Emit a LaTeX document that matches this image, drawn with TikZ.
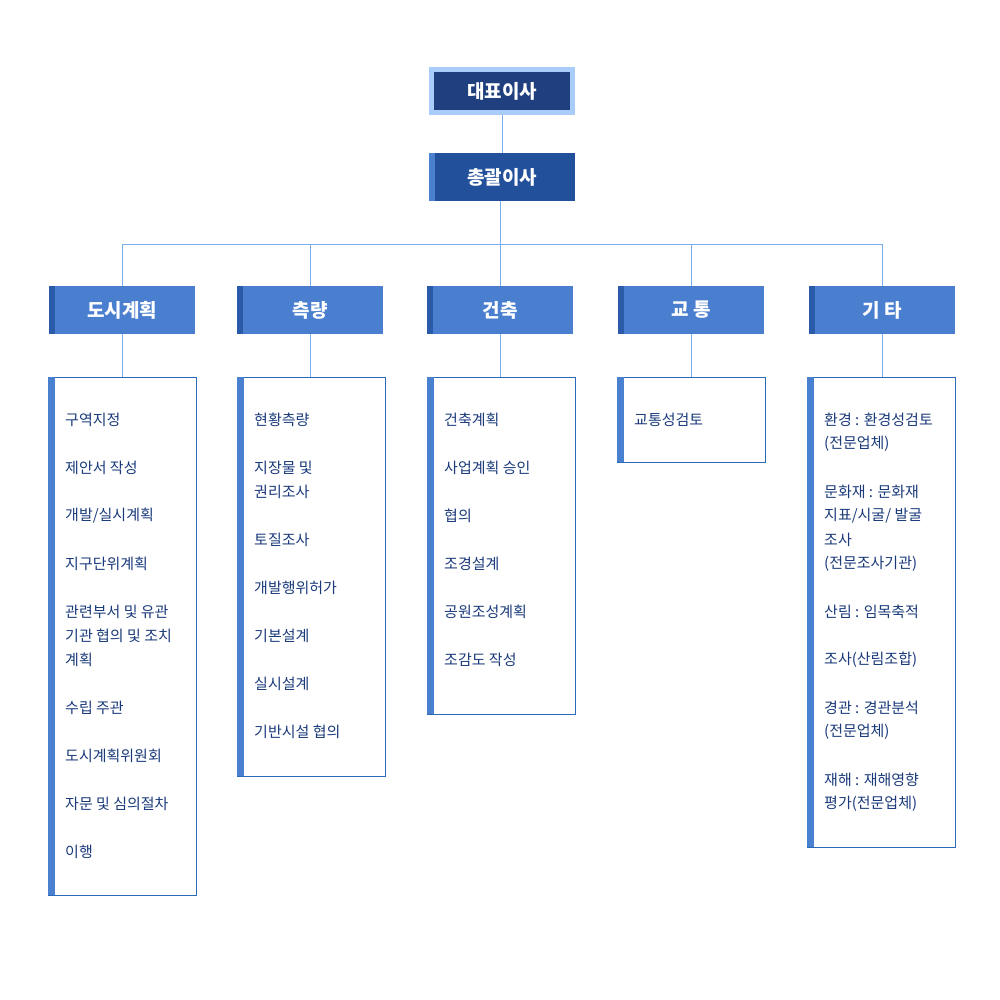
\documentclass[tikz,border=0pt]{standalone}
\usepackage{fontspec}
\setmainfont{Noto Sans CJK KR}
\definecolor{ceo}{HTML}{1F3F7F}
\definecolor{ceoline}{HTML}{A9CDFB}
\definecolor{dir}{HTML}{22509A}
\definecolor{cat}{HTML}{4A7FD0}
\definecolor{catbar}{HTML}{2A5AA8}
\definecolor{boxline}{HTML}{2A6AB8}
\definecolor{bar}{HTML}{4A80D0}
\definecolor{wire}{HTML}{7AAEF0}
\definecolor{txt}{HTML}{1A3A7A}
\begin{document}
\begin{tikzpicture}[x=1pt,y=-1pt,
  head/.style={rectangle, minimum width=146pt, minimum height=48pt, inner sep=0pt, text=white, font=\fontsize{19}{19}\selectfont\bfseries},
  cathead/.style={head, fill=cat, path picture={\fill[catbar] (path picture bounding box.north west) rectangle ([xshift=6pt]path picture bounding box.south west);}},
  item/.style={anchor=west, inner sep=0pt, text=txt, font=\fontsize{15}{15}\selectfont},
  wire/.style={draw=wire, line width=0.8pt}]
\useasboundingbox (0,0) rectangle (1000,1000);
% top
\node[head, fill=ceo, draw=ceoline, line width=5pt, minimum width=141pt, minimum height=43pt] (ceo) at (502,91) {대표이사};
\node[head, fill=dir, path picture={\fill[bar] (path picture bounding box.north west) rectangle ([xshift=6pt]path picture bounding box.south west);}] (dir) at (502,177) {총괄이사};
\draw[wire] (ceo) -- (dir);
\coordinate (hub) at (500,244);
\draw[wire] (dir.south -| hub) -- (hub);
% categories
\foreach \n/\x/\t in {1/122/도시계획, 2/310/측량/토목, 3/500/건축/조경, 4/691/교 통, 5/882/기 타} {
  \node[cathead] (cat-\n) at (\x,310) {\t};
  \coordinate (j-\n) at (\x,244);
}
\draw[wire] (j-1) -- (j-5);
\foreach \n in {1,...,5} \draw[wire] (j-\n) -- (cat-\n);
% detail boxes
\foreach \n/\xa/\xb/\yb in {1/48/196/895, 2/237/385/776, 3/427/575/714, 4/617/765/462, 5/807/955/847} {
  \draw[boxline, line width=0.8pt] (\xa,377) rectangle (\xb,\yb);
  \fill[bar] (\xa,377) rectangle (\xa+7,\yb);
  \coordinate (box-\n) at ({(\xa+\xb)/2},377);
}
\foreach \n in {1,...,5} \draw[wire] (cat-\n) -- (cat-\n |- box-\n);
% items
\foreach \i/\y/\t in {1/420/구역지정, 2/468/제안서 작성, 3/516/{개발/실시계획}, 4/564/지구단위계획, 5/612/관련부서 및 유관, 6/636/기관 협의 및 조치, 7/660/계획, 8/708/수립 주관, 9/756/도시계획위원회, 10/804/자문 및 심의절차, 11/852/이행}
  \node[item] (a-\i) at (65,\y) {\t};
\foreach \i/\y/\t in {1/420/현황측량, 2/468/지장물 및, 3/492/권리조사, 4/540/토질조사, 5/588/개발행위허가, 6/636/기본설계, 7/684/실시설계, 8/732/기반시설 협의}
  \node[item] (b-\i) at (254,\y) {\t};
\foreach \i/\y/\t in {1/420/건축계획, 2/468/사업계획 승인, 3/516/협의, 4/564/조경설계, 5/612/공원조성계획, 6/660/조감도 작성}
  \node[item] (c-\i) at (444,\y) {\t};
\node[item] (d-1) at (634,420) {교통성검토};
\foreach \i/\y/\t in {1/420/환경 : 환경성검토, 2/444/(전문업체), 3/492/문화재 : 문화재, 4/516/{지표/시굴/ 발굴}, 5/540/조사, 6/564/(전문조사기관), 7/612/산림 : 임목축적, 8/660/조사(산림조합), 9/708/경관 : 경관분석, 10/732/(전문업체), 11/780/재해 : 재해영향, 12/804/평가(전문업체)}
  \node[item] (e-\i) at (824,\y) {\t};
\end{tikzpicture}
\end{document}
